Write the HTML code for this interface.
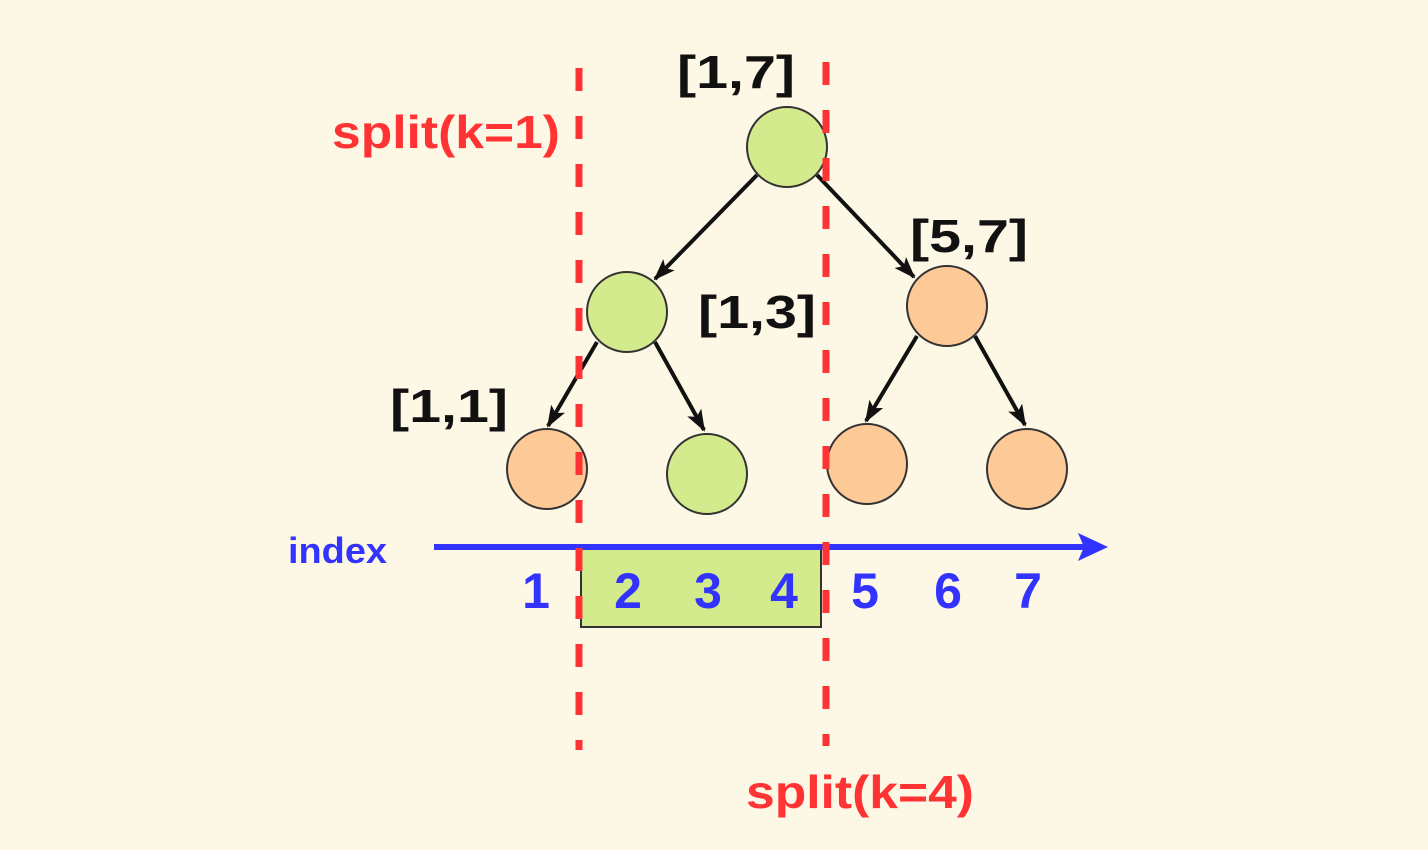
<!DOCTYPE html>
<html><head><meta charset="utf-8"><style>
html,body{margin:0;padding:0;background:#fdf7e6;}
svg{display:block}
text{font-family:"Liberation Sans","DejaVu Sans",sans-serif;font-weight:bold;}
</style></head><body>
<svg width="1428" height="850" viewBox="0 0 1428 850" xmlns="http://www.w3.org/2000/svg">
<defs>
<marker id="ah" markerWidth="22" markerHeight="16" refX="20" refY="8" orient="auto" markerUnits="userSpaceOnUse">
<polygon points="0,0 22,8 0,16 5,8" fill="#111"/>
</marker>
</defs>
<rect width="1428" height="850" fill="#fdf7e6"/>
<rect x="581" y="547" width="240" height="80" fill="#d3ea8d" stroke="#333" stroke-width="2"/>
<line x1="434" y1="547" x2="1090" y2="547" stroke="#3333ff" stroke-width="6"/>
<polygon points="1108,547 1078,533 1084,547 1078,561" fill="#3333ff"/>
<g stroke="#111" stroke-width="4" fill="none" marker-end="url(#ah)">
<line x1="757" y1="175" x2="655" y2="279"/>
<line x1="817" y1="175" x2="914" y2="277"/>
<line x1="597" y1="342" x2="548" y2="426"/>
<line x1="655" y1="342" x2="704" y2="430"/>
<line x1="917" y1="336" x2="866" y2="421"/>
<line x1="975" y1="336" x2="1025" y2="425"/>
</g>
<g stroke="#333" stroke-width="2">
<circle cx="787" cy="147" r="40" fill="#d3ea8d"/>
<circle cx="627" cy="312" r="40" fill="#d3ea8d"/>
<circle cx="947" cy="306" r="40" fill="#fdc997"/>
<circle cx="547" cy="469" r="40" fill="#fdc997"/>
<circle cx="707" cy="474" r="40" fill="#d3ea8d"/>
<circle cx="867" cy="464" r="40" fill="#fdc997"/>
<circle cx="1027" cy="469" r="40" fill="#fdc997"/>
</g>
<g stroke="#ff3333" stroke-width="7" stroke-dasharray="23 25">
<line x1="579" y1="68" x2="579" y2="750"/>
<line x1="826" y1="62" x2="826" y2="746"/>
</g>
<g font-size="46" fill="#111">
<text x="677" y="88" textLength="118" lengthAdjust="spacingAndGlyphs">[1,7]</text>
<text x="910" y="252" textLength="118" lengthAdjust="spacingAndGlyphs">[5,7]</text>
<text x="698" y="328" textLength="118" lengthAdjust="spacingAndGlyphs">[1,3]</text>
<text x="390" y="422" textLength="118" lengthAdjust="spacingAndGlyphs">[1,1]</text>
</g>
<g font-size="46" fill="#ff3333">
<text x="332" y="148" textLength="228" lengthAdjust="spacingAndGlyphs">split(k=1)</text>
<text x="746" y="808" textLength="228" lengthAdjust="spacingAndGlyphs">split(k=4)</text>
</g>
<text x="288" y="563" font-size="36" fill="#3333ff" textLength="99" lengthAdjust="spacingAndGlyphs">index</text>
<g font-size="50" fill="#3333ff" text-anchor="middle">
<text x="536" y="608">1</text>
<text x="628" y="608">2</text>
<text x="708" y="608">3</text>
<text x="784" y="608">4</text>
<text x="865" y="608">5</text>
<text x="948" y="608">6</text>
<text x="1028" y="608">7</text>
</g>
</svg>
</body></html>
